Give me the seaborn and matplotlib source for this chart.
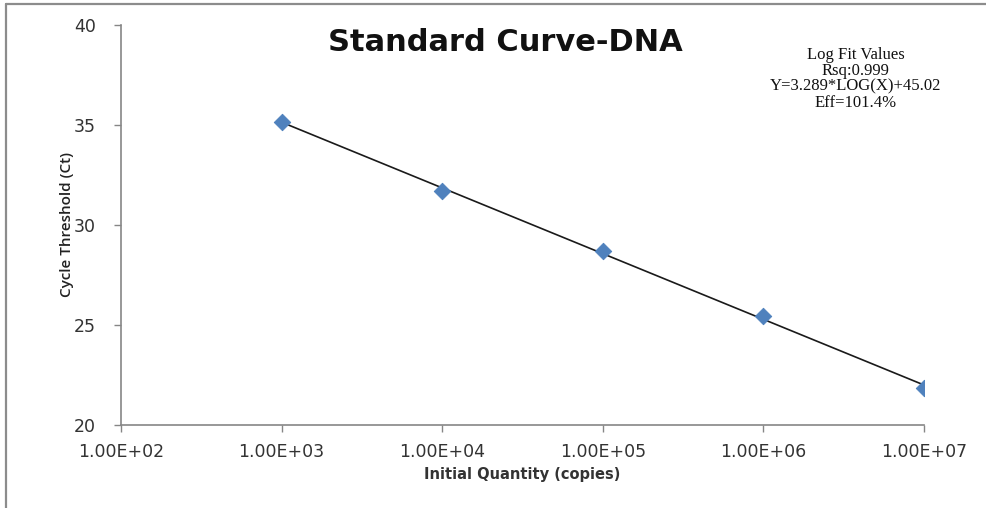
import numpy as np
import pandas as pd
import seaborn as sns
import matplotlib.pyplot as plt
from matplotlib.ticker import FuncFormatter, FixedLocator, NullLocator
from matplotlib.lines import Line2D

# Data
quantity = [1e3, 1e4, 1e5, 1e6, 1e7]
ct = [35.15, 31.7, 28.7, 25.45, 21.85]
x_ticks = [1e2, 1e3, 1e4, 1e5, 1e6, 1e7]
y_ticks = [20, 25, 30, 35, 40]
fit_text = ['Log Fit Values', 'Rsq:0.999', 'Y=3.289*LOG(X)+45.02', 'Eff=101.4%']

df = pd.DataFrame({'quantity': quantity, 'ct': ct})

# Log fit line through the points
slope, intercept = np.polyfit(np.log10(df['quantity']), df['ct'], 1)
fit = pd.DataFrame({'quantity': [quantity[0], quantity[-1]]})
fit['ct'] = slope * np.log10(fit['quantity']) + intercept

sns.set_style('white')
plt.rcParams['font.family'] = ['DejaVu Sans']

fig = plt.figure(figsize=(9.87, 5.08), dpi=100)
ax = fig.add_axes([0.1226, 0.1634, 0.8135, 0.7874])

sns.lineplot(data=fit, x='quantity', y='ct', color='#1a1a1a', linewidth=1.2, ax=ax)
sns.scatterplot(data=df, x='quantity', y='ct', marker='D', s=70, color='#4f81bd',
                edgecolor='#4f81bd', ax=ax, zorder=3)

ax.set_xscale('log')
ax.set_xlim(1e2, 1e7)
ax.set_ylim(20, 40)
ax.xaxis.set_major_locator(FixedLocator(x_ticks))
ax.xaxis.set_minor_locator(NullLocator())
ax.xaxis.set_major_formatter(FuncFormatter(lambda v, p: f'{v:.2E}'))
ax.set_yticks(y_ticks)

for spine in ['top', 'right']:
    ax.spines[spine].set_visible(False)
for spine in ['left', 'bottom']:
    ax.spines[spine].set_color('#868686')
    ax.spines[spine].set_linewidth(1.2)
ax.tick_params(axis='both', which='major', direction='out', length=5, width=1,
               color='#868686', labelsize=12.5, labelcolor='#333333',
               bottom=True, left=True)
ax.tick_params(axis='y', pad=13)
ax.tick_params(axis='x', pad=8)

ax.set_xlabel('Initial Quantity (copies)', fontsize=10.5, fontweight='bold',
              color='#333333', labelpad=4)
ax.set_ylabel('Cycle Threshold (Ct)', fontsize=11, fontweight='semibold',
              color='#222222', labelpad=0, family='Open Sans')

fig.text(0.512, 0.917, 'Standard Curve-DNA', ha='center', va='center',
         fontsize=22, fontweight='bold', color='#111111')
fig.text(0.867, 0.845, '\n'.join(fit_text), ha='center', va='center',
         fontsize=12, family='Liberation Serif', linespacing=1.0, color='#111111')

# Outer chart frame (top and left edges visible)
fig.add_artist(Line2D([6 / 987, 6 / 987], [0, 1 - 4 / 508], transform=fig.transFigure,
                      color='#8c8c8c', linewidth=1.6))
fig.add_artist(Line2D([6 / 987, 1], [1 - 4 / 508, 1 - 4 / 508], transform=fig.transFigure,
                      color='#8c8c8c', linewidth=1.6))

fig.savefig('out.png', dpi=100)
